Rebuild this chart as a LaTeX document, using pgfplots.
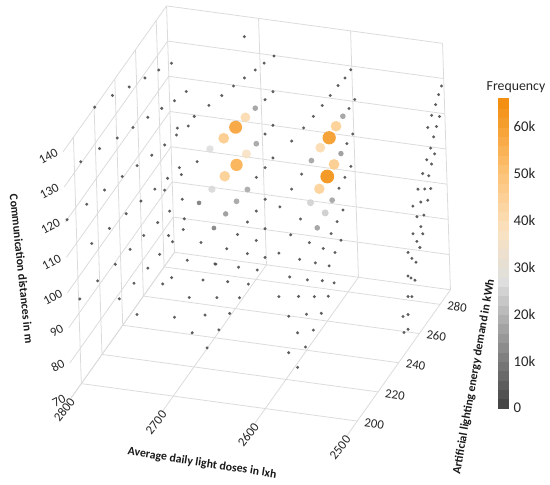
\documentclass[border=0pt]{standalone}
\usepackage{fontspec}
\setmainfont{Carlito}
\usepackage{pgfplots}
\pgfplotsset{compat=1.18}
\usetikzlibrary{calc}
\pgfplotsset{colormap={freq}{rgb255(0pt)=(64,64,64); rgb255(13pt)=(140,140,140); rgb255(27pt)=(222,222,222); rgb255(38pt)=(250,226,192); rgb255(50pt)=(253,196,120); rgb255(66pt)=(242,140,10)}}
\begin{document}
\begin{tikzpicture}
\begin{axis}[
  x={(0.933333pt,-0.126667pt)},
  y={(1.05pt,1.48pt)},
  z={(-0.114286pt,3.571429pt)},
  x dir=reverse,
  xmin=2500,xmax=2800,ymin=190,ymax=290,zmin=70,zmax=140,
  xtick={2500,2600,2700,2800},
  ytick={200,220,240,260,280},
  ztick={70,80,90,100,110,120,130,140},
  grid=major,
  major grid style={draw=black!14,line width=0.8pt},
  axis line style={draw=none},
  tick style={draw=none},
  scaled ticks=false,
  /pgf/number format/1000 sep={},
  /pgf/number format/assume math mode=true,
  tick label style={font=\fontsize{13}{15}\selectfont,text=black!85},
  xticklabel style={rotate=52,anchor=east,xshift=3pt,yshift=-2pt},
  yticklabel style={rotate=-9,anchor=west,xshift=4pt},
  zticklabel style={rotate=28,anchor=east,xshift=-2pt,yshift=3pt},
  colormap name=freq,
  point meta min=0, point meta max=66,
  clip=false,
]
\addplot3[scatter, only marks, mark=*,
  point meta=\thisrow{f},
  scatter/use mapped color={draw opacity=0,fill=mapped color,fill opacity=0.9},
  visualization depends on={value \thisrow{f} \as \fk},
  scatter/@pre marker code/.append style={/tikz/mark size={1.5+5.5*\fk/65}},
] table[x=x,y=y,z=z]{
x y z f
2800 220.6 140.0 2
2800 237.3 136.4 2
2800 253.0 132.3 2
2800 267.9 128.7 2
2800 280.8 125.6 2
2787.2 282 127.5 2
2800 206.1 130.5 2
2800 223.8 126.9 2
2800 240.5 123.0 2
2800 255.4 119.8 2
2800 269.4 116.9 2
2800 282.5 114.0 2
2785.3 282 116.9 2
2772.0 282 120.0 2
2800 191.7 120.0 2
2800 210.3 116.7 2
2800 227.2 113.7 2
2800 244.0 110.6 2
2800 258.0 107.9 2
2800 271.9 105.1 2
2797.5 282 103.9 2
2800 213.8 104.1 2
2800 230.6 101.4 2
2800 246.5 99.0 2
2800 260.5 96.8 2
2800 273.7 94.7 2
2795.5 282 94.5 2
2800 201.1 93.6 2
2800 218.1 91.7 2
2800 235.0 89.4 2
2800 249.1 87.8 2
2800 262.2 86.3 2
2800 275.4 84.5 2
2794.4 282 85.2 2
2780.1 282 89.1 2
2800 237.6 78.5 2
2800 251.7 77.1 2
2800 264.9 75.9 2
2800 276.3 75.1 2
2792.3 282 76.6 2
2796.4 282 78.2 2
2780.1 282 80.5 2
2778.6 282 83.6 2
2764.2 282 113.2 2
2771.1 282 110.2 2
2783.0 282 109.2 2
2784.3 282 107.2 2
2762.6 282 100.4 2
2782.2 282 98.0 2
2780.3 282 96.1 2
2799.1 282 91.0 2
2776.9 282 71.9 2
2740 202.8 90.6 2
2740 227.4 89.1 2
2740 235.8 87.4 2
2740 251.6 75.2 2
2740 237.3 75.5 2
2695 215.1 81.9 2
2695 228.4 72.1 2
2695 227.5 81.8 2
2695 239.8 72.5 2
2695 226.7 92.1 2
2695 239.0 82.0 2
2695 250.3 72.8 2
2695 238.2 91.9 2
2695 249.4 82.2 2
2695 259.9 73.3 2
2695 268.5 73.6 2
2706.7 282 137.9 2
2675.0 282 133.5 2
2686.0 282 131.1 2
2695.9 282 128.8 2
2708.1 282 126.1 2
2720.2 282 123.4 2
2733.4 282 120.2 2
2747.8 282 116.9 2
2677.4 282 123.3 2
2686.3 282 120.7 2
2678.6 282 113.7 2
2687.5 282 110.9 2
2679.7 282 104.4 2
2688.6 282 101.3 2
2698.6 282 98.2 2
2689.7 282 92.3 2
2699.7 282 88.6 2
2709.8 282 85.1 2
2721.1 282 81.2 2
2733.4 282 76.7 2
2745.8 282 71.9 2
2761.2 282 77.5 2
2690.8 282 83.9 2
2700.8 282 80.2 2
2710.9 282 76.1 2
2721.1 282 71.9 2
2691.8 282 75.7 2
2700.8 282 71.8 2
2590 280.6 133.2 2
2590 275.0 133.2 2
2590 268.3 133.8 2
2590 260.8 134.1 2
2590 253.2 134.4 2
2590 244.6 134.9 2
2590 235.2 135.5 2
2590 223.8 136.5 2
2590 283.4 123.6 2
2590 277.7 123.4 2
2590 232.0 123.7 2
2590 222.4 123.4 2
2590 211.0 123.1 2
2590 280.5 115.0 2
2590 274.8 114.6 2
2590 229.7 111.9 2
2590 220.1 111.4 2
2590 208.7 110.9 2
2590 277.8 106.9 2
2590 272.0 106.2 2
2590 266.2 105.5 2
2590 237.2 102.1 2
2590 227.6 101.3 2
2590 218.0 100.3 2
2590 207.4 99.1 2
2590 269.2 98.1 2
2590 263.4 97.2 2
2590 257.6 96.2 2
2590 249.8 95.2 2
2590 242.1 94.3 2
2590 234.3 92.7 2
2590 225.6 91.6 2
2590 215.9 90.0 2
2590 266.5 90.6 2
2590 260.6 89.6 2
2590 254.8 88.2 2
2590 248.0 86.8 2
2590 240.2 85.5 2
2590 232.4 83.7 2
2590 223.6 82.1 2
2590 214.8 80.1 2
2590 258.8 81.7 2
2590 253.0 80.3 2
2590 246.1 78.3 2
2590 238.3 76.8 2
2590 230.5 75.2 2
2590 222.6 72.7 2
2500 287.8 128.8 2
2500 284.8 127.6 2
2500 281.8 126.0 2
2500 277.8 124.6 2
2500 285.0 121.3 2
2500 273.8 122.8 2
2500 282.0 119.7 2
2500 279.0 118.0 2
2500 275.9 116.1 2
2500 279.4 113.0 2
2500 272.0 114.4 2
2500 276.3 111.4 2
2500 267.8 112.2 2
2500 273.3 109.3 2
2500 262.9 109.8 2
2500 269.3 107.2 2
2500 274.7 105.1 2
2500 265.2 105.2 2
2500 271.7 103.0 2
2500 257.8 107.1 2
2500 261.2 102.7 2
2500 267.6 100.5 2
2500 264.5 98.5 2
2500 257.0 99.6 2
2500 266.1 95.8 2
2500 260.4 96.0 2
2500 263.0 93.2 2
2500 251.9 96.4 2
2500 255.3 93.3 2
2500 258.9 90.7 2
2500 251.2 90.0 2
2500 253.9 88.3 2
2500 257.5 86.2 2
2500 250.6 84.4 2
2500 254.2 82.9 2
2500 245.4 80.9 2
2500 250.1 79.5 2
2500 245.8 76.2 2
2500 249.6 75.5 2
2697.3 282 117.9 16
2697.4 282 107.8 17
2708.7 282 94.4 18
2721.0 282 90.6 17
2733.3 282 86.6 15
2746.6 282 82.1 11
2762.0 282 88.7 10
2590 271.9 123.6 16
2590 241.5 123.6 17
2590 269.0 114.2 15
2590 259.5 104.9 17
2590 244.9 103.1 16
2748.2 282 104.5 27
2747.5 282 93.1 26
2590 239.4 112.5 25
2590 252.7 104.1 24
2708.4 282 114.9 41
2708.6 282 104.5 37
2732.8 282 108.1 47
2733.0 282 97.3 46
2590 265.3 123.5 46
2590 250.1 123.7 41
2590 262.3 113.9 47
2590 248.0 112.9 45
2719.4 282 111.7 60
2719.7 282 101.0 56
2590 258.6 123.0 62
2590 255.7 113.2 65
};
\coordinate (F0) at (axis cs:2800,190,70);
\end{axis}
\begin{axis}[at={($(F0)+(433pt,-10pt)$)}, anchor=south west,
  scale only axis, width=11pt, height=314pt, view={0}{90}, hide axis,
  xmin=0,xmax=1,ymin=0,ymax=66, colormap name=freq,
  point meta min=0, point meta max=66, clip=false]
\addplot3[surf, shader=flat, mesh/cols=2, point meta=y] coordinates {
(0,0,0) (1,0,0) (0,2,0) (1,2,0) (0,4,0) (1,4,0) (0,6,0) (1,6,0) (0,8,0) (1,8,0)
(0,10,0) (1,10,0) (0,12,0) (1,12,0) (0,14,0) (1,14,0) (0,16,0) (1,16,0) (0,18,0) (1,18,0)
(0,20,0) (1,20,0) (0,22,0) (1,22,0) (0,24,0) (1,24,0) (0,26,0) (1,26,0) (0,28,0) (1,28,0)
(0,30,0) (1,30,0) (0,32,0) (1,32,0) (0,34,0) (1,34,0) (0,36,0) (1,36,0) (0,38,0) (1,38,0)
(0,40,0) (1,40,0) (0,42,0) (1,42,0) (0,44,0) (1,44,0) (0,46,0) (1,46,0) (0,48,0) (1,48,0)
(0,50,0) (1,50,0) (0,52,0) (1,52,0) (0,54,0) (1,54,0) (0,56,0) (1,56,0) (0,58,0) (1,58,0)
(0,60,0) (1,60,0) (0,62,0) (1,62,0) (0,64,0) (1,64,0) (0,66,0) (1,66,0)
};
\coordinate (CB0) at (axis cs:1,0,0);
\coordinate (CB66) at (axis cs:1,66,0);
\coordinate (CBT) at (axis cs:0.5,66,0);
\end{axis}
\path (CB0) -- (CB66)
  node[pos=0,anchor=west,inner sep=0pt,xshift=5pt,font=\fontsize{15}{17}\selectfont,text=black!85] {0}
  node[pos=10/66,anchor=west,inner sep=0pt,xshift=5pt,font=\fontsize{15}{17}\selectfont,text=black!85] {10k}
  node[pos=20/66,anchor=west,inner sep=0pt,xshift=5pt,font=\fontsize{15}{17}\selectfont,text=black!85] {20k}
  node[pos=30/66,anchor=west,inner sep=0pt,xshift=5pt,font=\fontsize{15}{17}\selectfont,text=black!85] {30k}
  node[pos=40/66,anchor=west,inner sep=0pt,xshift=5pt,font=\fontsize{15}{17}\selectfont,text=black!85] {40k}
  node[pos=50/66,anchor=west,inner sep=0pt,xshift=5pt,font=\fontsize{15}{17}\selectfont,text=black!85] {50k}
  node[pos=60/66,anchor=west,inner sep=0pt,xshift=5pt,font=\fontsize{15}{17}\selectfont,text=black!85] {60k};
\node[anchor=south,inner sep=0pt,xshift=13pt,yshift=6pt,font=\fontsize{14}{16}\selectfont,text=black!85] at (CBT) {Frequency};
\node[rotate=-9,inner sep=1pt,font=\bfseries\fontsize{12}{14}\selectfont,text=black!90] at ($(F0)+(133pt,-66pt)$) {Average daily light doses in lxh};
\node[rotate=-84,inner sep=1pt,font=\bfseries\fontsize{12}{14}\selectfont,text=black!90] at ($(F0)+(-50pt,131pt)$) {Communication distances in m};
\node[rotate=80,inner sep=1pt,font=\bfseries\fontsize{12}{14}\selectfont,text=black!90] at ($(F0)+(409pt,22pt)$) {Artificial lighting energy demand in kWh};
\pgfresetboundingbox
\useasboundingbox ($(F0)+(-72pt,-88pt)$) rectangle ($(F0)+(486pt,404pt)$);
\end{tikzpicture}
\end{document}
